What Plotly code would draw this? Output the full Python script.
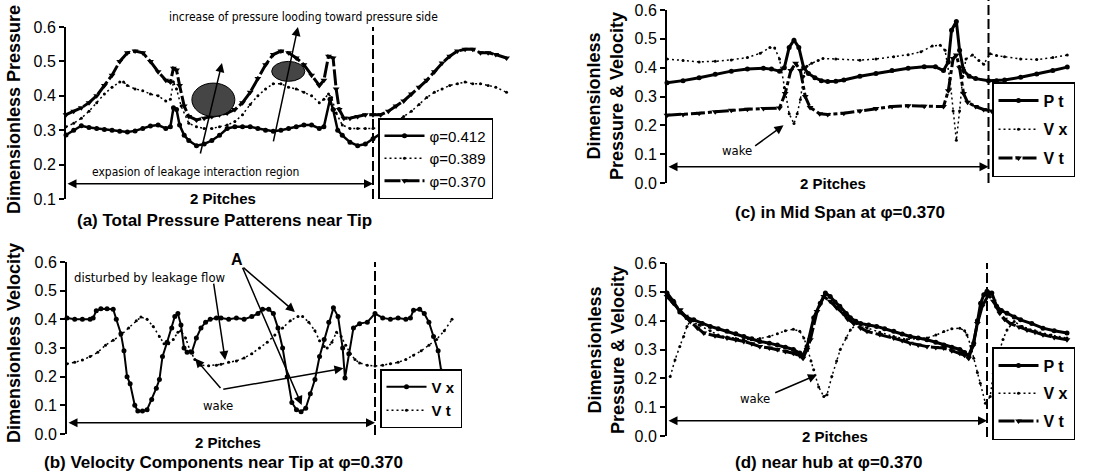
import plotly.graph_objects as go

# ---------------- data (x in pitch units: 0 = start, 2 = two pitches) ----------------
# (a) total pressure near tip
A370_X = [0, 0.05, 0.1, 0.15, 0.2, 0.25, 0.3, 0.35, 0.4, 0.45, 0.5, 0.55, 0.6, 0.65, 0.68, 0.70, 0.72, 0.74, 0.77, 0.80,
          0.85, 0.9, 0.95, 1.0, 1.05, 1.1, 1.15, 1.2, 1.25, 1.3, 1.35, 1.4, 1.45, 1.5, 1.55, 1.6, 1.65, 1.68, 1.71, 1.74,
          1.76, 1.78, 1.81, 1.85, 1.9, 1.95, 2.0, 2.05, 2.1, 2.15, 2.2, 2.25, 2.3, 2.35, 2.4, 2.45, 2.5, 2.55, 2.6, 2.65,
          2.7, 2.75, 2.8, 2.87]
A370_Y = [0.345, 0.355, 0.365, 0.38, 0.40, 0.43, 0.46, 0.50, 0.525, 0.53, 0.525, 0.50, 0.47, 0.445, 0.44, 0.48, 0.475,
          0.43, 0.37, 0.34, 0.33, 0.335, 0.34, 0.345, 0.35, 0.36, 0.38, 0.41, 0.45, 0.49, 0.52, 0.53, 0.525, 0.51, 0.49,
          0.46, 0.43, 0.445, 0.515, 0.51, 0.42, 0.36, 0.335, 0.335, 0.34, 0.345, 0.345, 0.345, 0.355, 0.37, 0.385, 0.405,
          0.425, 0.445, 0.47, 0.495, 0.515, 0.53, 0.535, 0.535, 0.525, 0.525, 0.52, 0.51]
A389_X = [0, 0.05, 0.1, 0.15, 0.2, 0.25, 0.3, 0.35, 0.375, 0.4, 0.45, 0.5, 0.55, 0.6, 0.65, 0.68, 0.70, 0.72, 0.75, 0.8,
          0.85, 0.9, 0.95, 1.0, 1.05, 1.1, 1.15, 1.2, 1.25, 1.3, 1.35, 1.4, 1.45, 1.5, 1.55, 1.6, 1.65, 1.68, 1.71, 1.73,
          1.76, 1.8, 1.85, 1.9, 1.95, 2.0, 2.05, 2.1, 2.15, 2.2, 2.25, 2.3, 2.35, 2.4, 2.45, 2.5, 2.55, 2.6, 2.65, 2.7,
          2.75, 2.8, 2.87]
A389_Y = [0.31, 0.32, 0.335, 0.355, 0.38, 0.405, 0.425, 0.44, 0.44, 0.43, 0.42, 0.415, 0.405, 0.40, 0.385, 0.39, 0.44,
          0.42, 0.37, 0.32, 0.31, 0.305, 0.305, 0.31, 0.315, 0.325, 0.345, 0.375, 0.40, 0.42, 0.435, 0.435, 0.425, 0.42,
          0.41, 0.40, 0.38, 0.39, 0.405, 0.395, 0.35, 0.315, 0.305, 0.305, 0.305, 0.305, 0.31, 0.315, 0.325, 0.34, 0.355,
          0.375, 0.395, 0.41, 0.42, 0.43, 0.435, 0.44, 0.435, 0.435, 0.43, 0.425, 0.41]
A412_X = [0, 0.05, 0.1, 0.15, 0.2, 0.25, 0.3, 0.35, 0.4, 0.45, 0.5, 0.55, 0.6, 0.65, 0.68, 0.70, 0.72, 0.74, 0.77, 0.8,
          0.85, 0.9, 0.95, 1.0, 1.05, 1.1, 1.15, 1.2, 1.25, 1.3, 1.35, 1.4, 1.45, 1.5, 1.55, 1.6, 1.65, 1.68, 1.72, 1.74,
          1.77, 1.8, 1.85, 1.9, 1.95, 2.0, 2.05]
A412_Y = [0.286, 0.30, 0.313, 0.308, 0.305, 0.302, 0.30, 0.297, 0.295, 0.298, 0.305, 0.312, 0.315, 0.305, 0.31, 0.365,
          0.36, 0.315, 0.285, 0.27, 0.255, 0.26, 0.27, 0.285, 0.305, 0.31, 0.31, 0.31, 0.305, 0.30, 0.297, 0.30, 0.305,
          0.31, 0.315, 0.315, 0.305, 0.31, 0.39, 0.36, 0.30, 0.285, 0.265, 0.255, 0.26, 0.275, 0.29]

# (b) velocity components near tip
BVX_X = [0, 0.05, 0.1, 0.15, 0.17, 0.19, 0.22, 0.26, 0.30, 0.32, 0.35, 0.37, 0.39, 0.41, 0.44, 0.46, 0.49, 0.52, 0.55,
         0.58, 0.60, 0.62, 0.65, 0.68, 0.70, 0.72, 0.74, 0.76, 0.78, 0.81, 0.84, 0.87, 0.90, 0.93, 0.97, 1.0, 1.05, 1.1,
         1.15, 1.2, 1.24, 1.27, 1.31, 1.34, 1.37, 1.40, 1.43, 1.46, 1.49, 1.52, 1.55, 1.58, 1.61, 1.64, 1.67, 1.70, 1.73,
         1.76, 1.79, 1.805, 1.83, 1.86, 1.9, 1.95, 2.0, 2.05, 2.1, 2.15, 2.2, 2.23, 2.25, 2.29, 2.32, 2.35, 2.38, 2.41,
         2.43]
BVX_Y = [0.405, 0.40, 0.40, 0.40, 0.405, 0.43, 0.437, 0.437, 0.435, 0.40, 0.35, 0.29, 0.20, 0.175, 0.10, 0.08, 0.08,
         0.085, 0.12, 0.16, 0.19, 0.27, 0.32, 0.37, 0.41, 0.42, 0.38, 0.30, 0.285, 0.285, 0.335, 0.37, 0.39, 0.40, 0.405,
         0.405, 0.40, 0.405, 0.40, 0.41, 0.42, 0.435, 0.435, 0.42, 0.37, 0.30, 0.20, 0.11, 0.085, 0.078, 0.09, 0.14,
         0.19, 0.27, 0.33, 0.39, 0.44, 0.41, 0.30, 0.195, 0.28, 0.37, 0.385, 0.39, 0.42, 0.405, 0.40, 0.405, 0.40, 0.405,
         0.432, 0.435, 0.42, 0.39, 0.34, 0.29, 0.22]
BVT_X = [0, 0.05, 0.1, 0.15, 0.2, 0.25, 0.3, 0.35, 0.4, 0.45, 0.48, 0.52, 0.56, 0.6, 0.63, 0.66, 0.69, 0.72, 0.74, 0.77,
         0.8, 0.83, 0.87, 0.92, 0.97, 1.0, 1.05, 1.1, 1.15, 1.2, 1.25, 1.3, 1.35, 1.4, 1.45, 1.5, 1.53, 1.57, 1.61, 1.64,
         1.67, 1.69, 1.72, 1.75, 1.78, 1.81, 1.84, 1.87, 1.9, 1.95, 2.0, 2.05, 2.1, 2.15, 2.2, 2.25, 2.3, 2.35, 2.4,
         2.45, 2.5]
BVT_Y = [0.245, 0.25, 0.258, 0.27, 0.285, 0.31, 0.327, 0.345, 0.37, 0.395, 0.408, 0.40, 0.375, 0.34, 0.315, 0.315, 0.33,
         0.355, 0.36, 0.335, 0.29, 0.26, 0.24, 0.238, 0.24, 0.243, 0.25, 0.255, 0.265, 0.28, 0.30, 0.32, 0.345, 0.37,
         0.395, 0.41, 0.41, 0.39, 0.36, 0.325, 0.305, 0.30, 0.32, 0.355, 0.34, 0.31, 0.28, 0.26, 0.248, 0.24, 0.237,
         0.24, 0.245, 0.25, 0.26, 0.275, 0.29, 0.31, 0.33, 0.36, 0.40]

# (c) mid span
CPT_X = [0, 0.1, 0.2, 0.3, 0.4, 0.5, 0.6, 0.65, 0.7, 0.73, 0.76, 0.79, 0.82, 0.85, 0.88, 0.92, 0.96, 1.0, 1.05, 1.1,
         1.2, 1.3, 1.4, 1.5, 1.6, 1.67, 1.72, 1.75, 1.77, 1.80, 1.82, 1.845, 1.88, 1.92, 2.0, 2.05, 2.1, 2.2, 2.3, 2.4,
         2.49]
CPT_Y = [0.348, 0.355, 0.365, 0.377, 0.388, 0.395, 0.398, 0.395, 0.388, 0.40, 0.47, 0.495, 0.47, 0.40, 0.38, 0.365,
         0.355, 0.352, 0.353, 0.357, 0.37, 0.38, 0.39, 0.398, 0.403, 0.403, 0.39, 0.42, 0.53, 0.56, 0.46, 0.39, 0.37,
         0.362, 0.355, 0.355, 0.357, 0.367, 0.378, 0.39, 0.402]
CVX_X = [0, 0.1, 0.2, 0.3, 0.4, 0.5, 0.58, 0.64, 0.67, 0.70, 0.73, 0.76, 0.79, 0.81, 0.83, 0.85, 0.87, 0.9, 0.94, 0.97,
         1.05, 1.2, 1.3, 1.41, 1.5, 1.58, 1.65, 1.70, 1.73, 1.76, 1.78, 1.80, 1.82, 1.84, 1.86, 1.9, 1.94, 1.97, 2.01,
         2.05, 2.1, 2.2, 2.3, 2.4, 2.49]
CVX_Y = [0.43, 0.425, 0.42, 0.422, 0.427, 0.435, 0.45, 0.47, 0.468, 0.43, 0.33, 0.24, 0.206, 0.24, 0.29, 0.37, 0.405,
         0.415, 0.425, 0.432, 0.43, 0.426, 0.43, 0.438, 0.445, 0.455, 0.475, 0.478, 0.46, 0.36, 0.25, 0.148, 0.25, 0.37,
         0.43, 0.444, 0.425, 0.412, 0.448, 0.442, 0.438, 0.43, 0.428, 0.435, 0.444]
CVT_X = [0, 0.1, 0.2, 0.3, 0.4, 0.5, 0.6, 0.7, 0.735, 0.77, 0.80, 0.83, 0.86, 0.89, 0.95, 1.0, 1.1, 1.2, 1.3, 1.4, 1.5,
         1.6, 1.72, 1.75, 1.78, 1.80, 1.82, 1.845, 1.87, 1.92, 1.97, 2.02]
CVT_Y = [0.235, 0.238, 0.242, 0.247, 0.252, 0.256, 0.258, 0.26, 0.31, 0.39, 0.415, 0.39, 0.30, 0.262, 0.24, 0.238,
         0.242, 0.25, 0.258, 0.265, 0.268, 0.266, 0.265, 0.32, 0.432, 0.444, 0.40, 0.31, 0.28, 0.265, 0.255, 0.25]

# (d) near hub
DPT_X = [0, 0.04, 0.08, 0.125, 0.167, 0.22, 0.27, 0.32, 0.375, 0.43, 0.48, 0.53, 0.58, 0.64, 0.69, 0.74, 0.79, 0.83,
         0.85, 0.875, 0.917, 0.958, 0.99, 1.02, 1.05, 1.08, 1.12, 1.146, 1.18, 1.21, 1.26, 1.31, 1.36, 1.417, 1.47, 1.52,
         1.57, 1.625, 1.68, 1.73, 1.78, 1.83, 1.86, 1.885, 1.917, 1.94, 1.96, 1.98, 2.0, 2.03, 2.06, 2.09, 2.125, 2.17,
         2.21, 2.28, 2.35, 2.42, 2.5]
DPT_Y = [0.496, 0.467, 0.43, 0.41, 0.403, 0.39, 0.38, 0.372, 0.363, 0.355, 0.345, 0.337, 0.328, 0.322, 0.316, 0.308,
         0.30, 0.288, 0.28, 0.31, 0.41, 0.46, 0.496, 0.484, 0.465, 0.45, 0.425, 0.41, 0.398, 0.39, 0.385, 0.38, 0.372,
         0.363, 0.354, 0.345, 0.34, 0.334, 0.325, 0.316, 0.308, 0.30, 0.29, 0.278, 0.322, 0.40, 0.46, 0.49, 0.502,
         0.496, 0.45, 0.435, 0.426, 0.413, 0.403, 0.39, 0.374, 0.365, 0.357]
DVT_X = [0, 0.04, 0.083, 0.115, 0.146, 0.19, 0.23, 0.3, 0.375, 0.43, 0.48, 0.53, 0.58, 0.64, 0.69, 0.74, 0.79, 0.83,
         0.85, 0.875, 0.896, 0.9375, 0.98, 1.02, 1.06, 1.10, 1.13, 1.167, 1.21, 1.25, 1.33, 1.417, 1.47, 1.52, 1.57,
         1.625, 1.68, 1.73, 1.78, 1.83, 1.86, 1.885, 1.91, 1.94, 1.97, 2.01, 2.04, 2.08, 2.11, 2.146, 2.2, 2.25, 2.3,
         2.35, 2.42, 2.5]
DVT_Y = [0.484, 0.46, 0.438, 0.415, 0.397, 0.375, 0.357, 0.348, 0.34, 0.334, 0.328, 0.32, 0.31, 0.305, 0.30, 0.293,
         0.287, 0.278, 0.27, 0.30, 0.334, 0.432, 0.484, 0.467, 0.445, 0.426, 0.405, 0.39, 0.375, 0.363, 0.352, 0.34,
         0.331, 0.322, 0.316, 0.31, 0.307, 0.305, 0.296, 0.287, 0.28, 0.27, 0.31, 0.39, 0.45, 0.49, 0.467, 0.426, 0.405,
         0.39, 0.378, 0.368, 0.36, 0.351, 0.342, 0.334]
DVX_X = [0.02, 0.05, 0.08, 0.104, 0.125, 0.146, 0.2, 0.27, 0.32, 0.375, 0.43, 0.48, 0.53, 0.58, 0.64, 0.69, 0.74, 0.79,
         0.83, 0.855, 0.875, 0.9, 0.917, 0.948, 0.98, 1.0, 1.03, 1.06, 1.083, 1.12, 1.146, 1.19, 1.25, 1.33, 1.417, 1.5,
         1.58, 1.625, 1.68, 1.73, 1.78, 1.83, 1.86, 1.875, 1.9, 1.917, 1.94, 1.958, 1.99, 2.02, 2.04, 2.06, 2.08, 2.1,
         2.125, 2.17, 2.22, 2.3, 2.4, 2.5]
DVX_Y = [0.206, 0.264, 0.31, 0.345, 0.38, 0.40, 0.385, 0.365, 0.35, 0.343, 0.338, 0.335, 0.335, 0.338, 0.345, 0.355,
         0.365, 0.37, 0.363, 0.34, 0.31, 0.26, 0.23, 0.17, 0.137, 0.143, 0.206, 0.26, 0.30, 0.34, 0.368, 0.39, 0.375,
         0.36, 0.345, 0.335, 0.338, 0.34, 0.35, 0.362, 0.372, 0.374, 0.365, 0.35, 0.31, 0.27, 0.22, 0.183, 0.114, 0.137,
         0.218, 0.26, 0.30, 0.335, 0.368, 0.397, 0.38, 0.365, 0.35, 0.34]

TICKS_A = [0.1, 0.2, 0.3, 0.4, 0.5, 0.6]
TICKS_BCD = [0.0, 0.1, 0.2, 0.3, 0.4, 0.5, 0.6]
LEG_A = ["φ=0.412", "φ=0.389", "φ=0.370"]
LEG_V = ["P t", "V x", "V t"]

# ---------------- layout helpers ----------------
W, H = 1100, 474
def PX(v): return v / W
def PY(v): return 1 - v / H

FONT = "Liberation Sans, Arial, sans-serif"
NARROW = "Liberation Sans Narrow, DejaVu Sans Condensed, Roboto, sans-serif"
DOT = "2px,3px"

fig = go.Figure()

def add(x, y, name, xa, ya, leg, dash, msym, msize, lw):
    fig.add_trace(go.Scatter(
        x=x, y=y, name=name, xaxis=xa, yaxis=ya, legend=leg, legendgroup=name + leg,
        mode="lines+markers", cliponaxis=False,
        line=dict(color="black", width=lw, dash=dash),
        marker=dict(color="black", size=msize, symbol=msym)))

# (a)
add(A412_X, A412_Y, LEG_A[0], "x", "y", "legend", "solid", "circle", 5, 2.5)
add(A389_X, A389_Y, LEG_A[1], "x", "y", "legend", DOT, "circle", 3, 1.5)
add(A370_X, A370_Y, LEG_A[2], "x", "y", "legend", "16px,3px", "triangle-down", 6, 3)
# (b)
add(BVX_X, BVX_Y, LEG_V[1], "x2", "y2", "legend2", "solid", "circle", 5, 2)
add(BVT_X, BVT_Y, LEG_V[2], "x2", "y2", "legend2", DOT, "circle", 3, 1.5)
# (c)
add(CPT_X, CPT_Y, LEG_V[0], "x3", "y3", "legend3", "solid", "circle", 5, 3)
add(CVX_X, CVX_Y, LEG_V[1], "x3", "y3", "legend3", DOT, "circle", 3, 1.5)
add(CVT_X, CVT_Y, LEG_V[2], "x3", "y3", "legend3", "14px,3px,4px,3px", "triangle-down", 6, 3)
# (d)
add(DPT_X, DPT_Y, LEG_V[0], "x4", "y4", "legend4", "solid", "circle", 5, 3)
add(DVX_X, DVX_Y, LEG_V[1], "x4", "y4", "legend4", DOT, "circle", 3, 1.5)
add(DVT_X, DVT_Y, LEG_V[2], "x4", "y4", "legend4", "16px,3px", "triangle-down", 6, 3)

def yax(dom, rng, ticks, anchor):
    return dict(domain=dom, range=rng, tickvals=ticks, ticktext=[f"{t:.1f}" for t in ticks],
                showline=True, linecolor="black", linewidth=2, ticks="outside", ticklen=5, tickwidth=2,
                tickcolor="black", showgrid=False, zeroline=False, anchor=anchor, automargin=False,
                tickfont=dict(family=FONT, size=16, color="black"))

def xax(dom, rng, anchor):
    return dict(domain=dom, range=rng, visible=False, anchor=anchor, automargin=False)

fig.update_layout(
    xaxis=xax([PX(66), PX(66 + 153.5 * 2.9)], [0, 2.9], "y"),
    yaxis=yax([PY(199), PY(27)], [0.1, 0.6], TICKS_A, "x"),
    xaxis2=xax([PX(67), PX(67 + 154 * 2.6)], [0, 2.6], "y2"),
    yaxis2=yax([PY(434), PY(262)], [0, 0.6], TICKS_BCD, "x2"),
    xaxis3=xax([PX(667), PX(667 + 160.75 * 2.6)], [0, 2.6], "y3"),
    yaxis3=yax([PY(183), PY(10)], [0, 0.6], TICKS_BCD, "x3"),
    xaxis4=xax([PX(667), PX(667 + 160 * 2.6)], [0, 2.6], "y4"),
    yaxis4=yax([PY(436), PY(263)], [0, 0.6], TICKS_BCD, "x4"),
)

def leg(x, y, size, bold, gap):
    return dict(x=PX(x), y=PY(y), xanchor="left", yanchor="top", bgcolor="white",
                bordercolor="black", borderwidth=1.5, itemwidth=40, tracegroupgap=gap,
                font=dict(family=FONT, size=size, color="black", weight="bold" if bold else "normal"))

fig.update_layout(
    legend=leg(378, 118, 15, False, 0),
    legend2=leg(380, 369, 15, True, 1),
    legend3=leg(992, 82, 16, True, 5),
    legend4=leg(992, 347, 16, True, 4),
)

# dashed vertical lines at 2 pitches
for xr, top, bot in [("x", 27, 199), ("x2", 262, 435), ("x3", 0, 183), ("x4", 263, 437)]:
    fig.add_shape(type="line", xref=xr, yref="paper", x0=2, x1=2, y0=PY(bot), y1=PY(top),
                  line=dict(color="black", width=2, dash="10px,4px"))

# ellipses in (a)
fig.add_shape(type="circle", xref="x", yref="y", x0=0.82, x1=1.10, y0=0.34, y1=0.437,
              fillcolor="#454545", line=dict(color="black", width=1))
fig.add_shape(type="circle", xref="x", yref="y", x0=1.34, x1=1.556, y0=0.442, y1=0.50,
              fillcolor="#454545", line=dict(color="black", width=1))

def arrow(xr, yr, x0, y0, x1, y1, both=False, head=2):
    fig.add_annotation(x=x1, y=y1, ax=x0, ay=y0, xref=xr, yref=yr, axref=xr, ayref=yr, text="",
                       showarrow=True, arrowhead=head, arrowsize=1.2, arrowwidth=1.5, arrowcolor="black",
                       arrowside="end+start" if both else "end", startarrowhead=head, startarrowsize=1.2)

# 2-pitch double arrows
arrow("x", "y", 0, 0.144, 2, 0.144, both=True)
arrow("x2", "y2", 0, 0.039, 2, 0.039, both=True)
arrow("x3", "y3", 0, 0.056, 2, 0.056, both=True)
arrow("x4", "y4", 0, 0.053, 2, 0.053, both=True)

# (a) annotation arrows
arrow("x", "y", 0.873, 0.228, 1.016, 0.495)
arrow("x", "y", 1.349, 0.263, 1.511, 0.60)
# (b) arrows
arrow("x2", "y2", 1.136, 0.585, 1.48, 0.426)
arrow("x2", "y2", 1.136, 0.585, 1.524, 0.101)
arrow("x2", "y2", 0.951, 0.53, 1.027, 0.258)
arrow("x2", "y2", 1.005, 0.155, 0.832, 0.263)
arrow("x2", "y2", 1.005, 0.155, 1.795, 0.229)
# (c), (d) wake arrows
arrow("x3", "y3", 0.539, 0.125, 0.725, 0.20)
arrow("x4", "y4", 0.667, 0.148, 0.9375, 0.212)

def text(x, y, s, size, family=FONT, bold=True, angle=0):
    fig.add_annotation(x=PX(x), y=PY(y), xref="paper", yref="paper", text=f"<b>{s}</b>" if bold else s,
                       showarrow=False, textangle=angle, xanchor="center", yanchor="middle",
                       font=dict(family=family, size=size, color="black"))

# axis titles
text(14, 110, "Dimensionless Pressure", 18, angle=-90)
text(14, 343, "Dimensionless Velocity", 18, angle=-90)
text(606, 96, "Dimensionless<br>Pressure & Velocity", 18, angle=-90)
text(606, 350, "Dimensionless<br>Pressure & Velocity", 18, angle=-90)

# panel titles
text(224, 221, "(a) Total Pressure Patterens near Tip", 17)
text(223, 462, "(b) Velocity Components near Tip at φ=0.370", 17)
text(840, 213, "(c) in Mid Span at φ=0.370", 17)
text(828, 462, "(d) near hub at φ=0.370", 17)

# "2 Pitches"
text(223, 198, "2 Pitches", 15)
text(228, 442, "2 Pitches", 15)
text(833, 184, "2 Pitches", 15)
text(835, 436, "2 Pitches", 15)

# narrow annotation texts
text(303, 17, "increase of pressure looding toward pressure side", 12, NARROW, bold=False)
text(195, 172, "expasion of leakage interaction region", 12, NARROW, bold=False)
text(150, 277, "disturbed by leakage flow", 13, NARROW, bold=False)
text(218, 405, "wake", 13, NARROW, bold=False)
text(737, 150, "wake", 13, NARROW, bold=False)
text(755, 398, "wake", 13, NARROW, bold=False)
text(237, 259, "A", 16)

fig.update_layout(width=W, height=H, margin=dict(l=0, r=0, t=0, b=0, autoexpand=False),
                  paper_bgcolor="white", plot_bgcolor="white", showlegend=True)

fig.write_html("out.html", config={"displayModeBar": False},
               post_script="document.body.style.margin='0';document.body.style.overflow='hidden';")
